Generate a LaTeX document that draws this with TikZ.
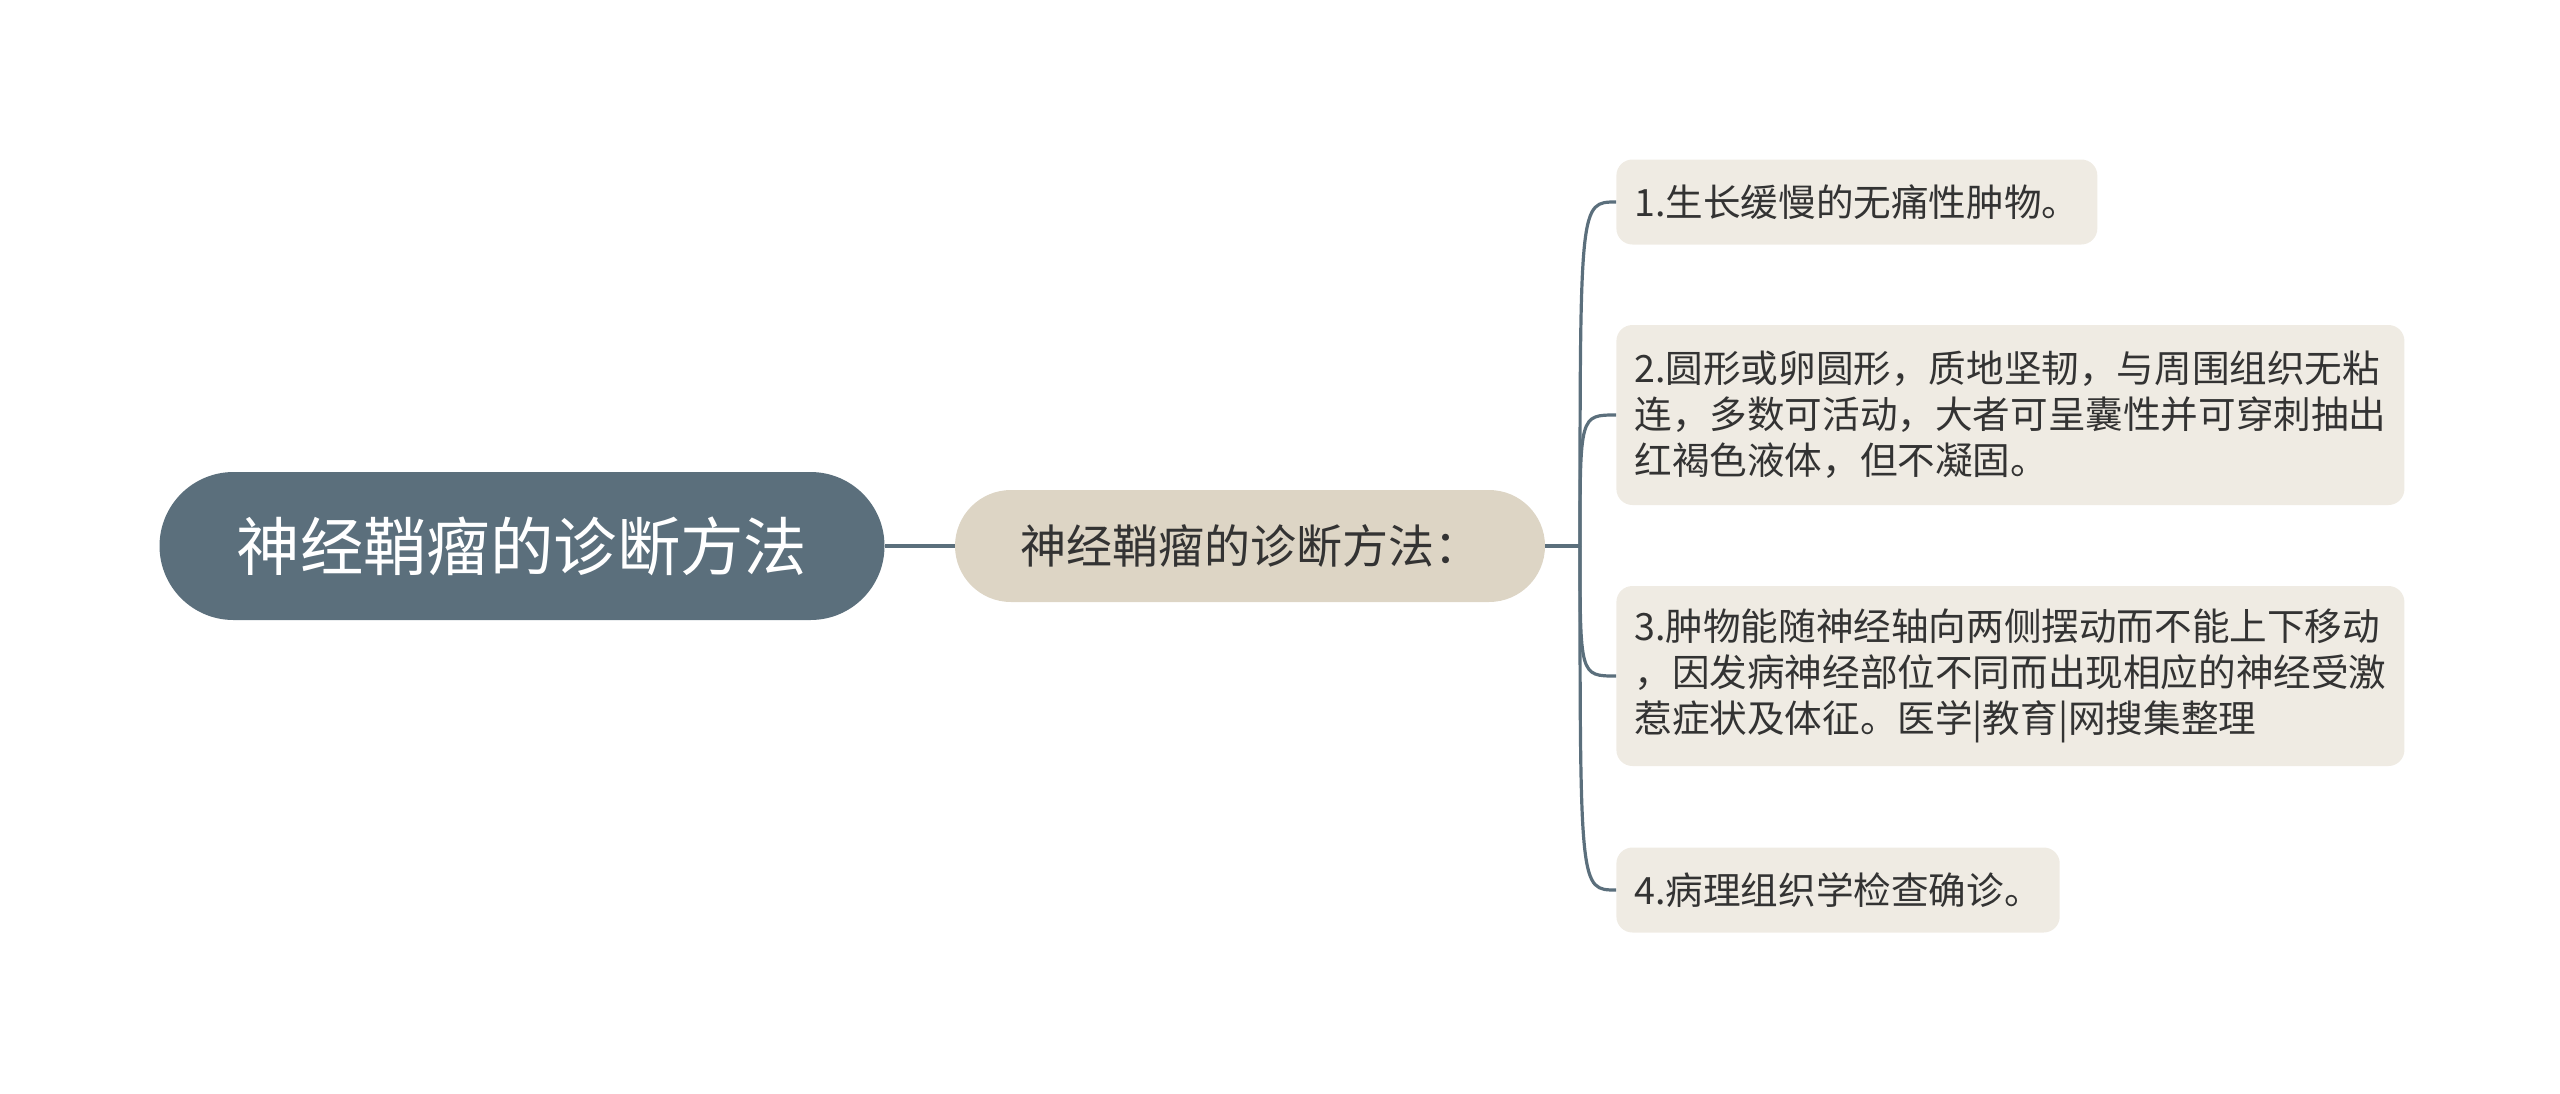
\documentclass[tikz,border=0pt]{standalone}
\usepackage{fontspec}
\setmainfont{Noto Sans CJK SC}
\usepackage{tikz}
\usetikzlibrary{calc}

\definecolor{slate}{HTML}{5B6F7C}
\definecolor{sand}{HTML}{DDD5C5}
\definecolor{paper}{HTML}{EFEBE3}
\definecolor{ink}{HTML}{333333}

\tikzset{
  rootbox/.style={fill=slate, text=white, rounded corners=37pt, minimum width=362.5pt, minimum height=74pt, inner sep=0pt, font=\fontsize{31.7}{38}\selectfont},
  midbox/.style={fill=sand, text=ink, rounded corners=28pt, minimum width=295pt, minimum height=56pt, inner sep=0pt, font=\fontsize{23}{28}\selectfont},
  leafbox/.style={anchor=west, fill=paper, text=ink, rounded corners=8pt, inner xsep=9pt, inner ysep=0pt, align=left, minimum height=42.5pt, font=\fontsize{18.8}{22.9}\selectfont},
  link/.style={draw=slate, line width=1.6pt}
}

\begin{document}
\begin{tikzpicture}[x=0.5pt,y=-0.5pt]
\useasboundingbox (0,0) rectangle (2560,1093);

\node[rootbox] (root) at (522,546) {神经鞘瘤的诊断方法};
\node[midbox] (mid) at (1250,546) {神经鞘瘤的诊断方法：};
\coordinate (jn) at (1580,546);

\node[leafbox] (c1) at (1616,202) {1.生长缓慢的无痛性肿物。};
\node[leafbox, minimum height=90pt] (c2) at (1616,415) {2.圆形或卵圆形，质地坚韧，与周围组织无粘\\连，多数可活动，大者可呈囊性并可穿刺抽出\\红褐色液体，但不凝固。};
\node[leafbox, minimum height=90pt] (c3) at (1616,676) {3.肿物能随神经轴向两侧摆动而不能上下移动\\，因发病神经部位不同而出现相应的神经受激\\惹症状及体征。医学|教育|网搜集整理};
\node[leafbox] (c4) at (1616,890) {4.病理组织学检查确诊。};

\draw[link] (root) -- (mid);
\draw[link] (mid) -- (jn);
\foreach \c in {c1,c2,c3,c4} {
  \draw[link] (jn) .. controls (jn |- \c.west) .. (\c.west);
}
\end{tikzpicture}
\end{document}
